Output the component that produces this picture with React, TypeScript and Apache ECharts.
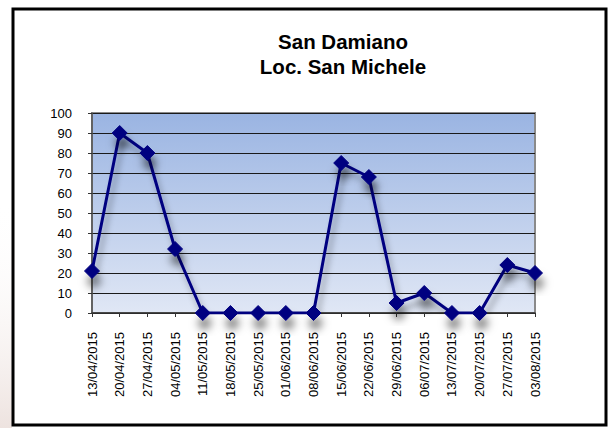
import React, { useEffect, useRef } from "react";
import * as echarts from "echarts";

const titleLines = ["San Damiano", "Loc. San Michele"];
const categories = [
  "13/04/2015", "20/04/2015", "27/04/2015", "04/05/2015", "11/05/2015",
  "18/05/2015", "25/05/2015", "01/06/2015", "08/06/2015", "15/06/2015",
  "22/06/2015", "29/06/2015", "06/07/2015", "13/07/2015", "20/07/2015",
  "27/07/2015", "03/08/2015",
];
const values = [21, 90, 80, 32, 0, 0, 0, 0, 0, 75, 68, 5, 10, 0, 0, 24, 20];
const yMin = 0;
const yMax = 100;
const yInterval = 10;

export default function App() {
  const ref = useRef<HTMLDivElement>(null);
  useEffect(() => {
    if (!ref.current) return;
    const chart = echarts.init(ref.current, undefined, { renderer: "svg" });
    chart.setOption({
      animation: false,
      backgroundColor: "#ffffff",
      graphic: [
        {
          type: "rect",
          left: 0,
          top: 200,
          z: -10,
          shape: { x: 0, y: 0, width: 12, height: 228 },
          style: {
            fill: new echarts.graphic.LinearGradient(0, 0, 0, 1, [
              { offset: 0, color: "rgba(255,255,255,0)" },
              { offset: 1, color: "rgba(230,215,210,0.7)" },
            ]),
          },
        },
        {
          type: "rect",
          z: -5,
          shape: { x: 13, y: 9, width: 593, height: 416 },
          style: { fill: "#ffffff", stroke: "#000000", lineWidth: 3 },
        },
        {
          type: "text",
          x: 343,
          y: 29,
          z: 10,
          style: {
            text: titleLines.join("\n"),
            fontFamily: "Liberation Sans, Arial, sans-serif",
            fontWeight: "bold",
            fontSize: 20.5,
            lineHeight: 25,
            fill: "#000000",
            align: "center",
            verticalAlign: "top",
          },
        },
      ],
      grid: {
        left: 92,
        top: 113,
        right: 78,
        bottom: 115,
        show: true,
        backgroundColor: new echarts.graphic.LinearGradient(0, 0, 0, 1, [
          { offset: 0, color: "#9ab4e2" },
          { offset: 1, color: "#e0e7f5" },
        ]),
        borderColor: "#8a8a8a",
        borderWidth: 2,
      },
      xAxis: {
        type: "category",
        data: categories,
        boundaryGap: false,
        axisLine: { lineStyle: { color: "#333333", width: 1.5 } },
        axisTick: { show: true, length: 4, inside: false, lineStyle: { color: "#333333" } },
        axisLabel: {
          rotate: 90,
          interval: 0,
          margin: 19,
          fontFamily: "Liberation Sans, Arial, sans-serif",
          fontSize: 13,
          color: "#000000",
        },
        splitLine: { show: false },
      },
      yAxis: {
        type: "value",
        min: yMin,
        max: yMax,
        interval: yInterval,
        axisLine: { show: true, lineStyle: { color: "#555555", width: 1.5 } },
        axisTick: { show: true, length: 4, lineStyle: { color: "#333333" } },
        axisLabel: {
          margin: 20,
          fontFamily: "Liberation Sans, Arial, sans-serif",
          fontSize: 13,
          color: "#000000",
        },
        splitLine: { show: true, lineStyle: { color: "#1a1a1a", width: 1 } },
      },
      series: [
        {
          type: "line",
          data: values,
          symbol: "diamond",
          symbolSize: 15,
          lineStyle: {
            color: "#000080",
            width: 3,
            shadowColor: "rgba(0,0,0,0.35)",
            shadowBlur: 6,
            shadowOffsetX: 3,
            shadowOffsetY: 7,
          },
          itemStyle: {
            color: "#000080",
            borderColor: "#000080",
            shadowColor: "rgba(0,0,0,0.5)",
            shadowBlur: 8,
            shadowOffsetX: 2,
            shadowOffsetY: 10,
          },
          z: 5,
        },
      ],
    });
    return () => chart.dispose();
  }, []);
  return (
    <div
      ref={ref}
      style={{ position: "fixed", left: 0, top: 0, width: 613, height: 428 }}
    />
  );
}
